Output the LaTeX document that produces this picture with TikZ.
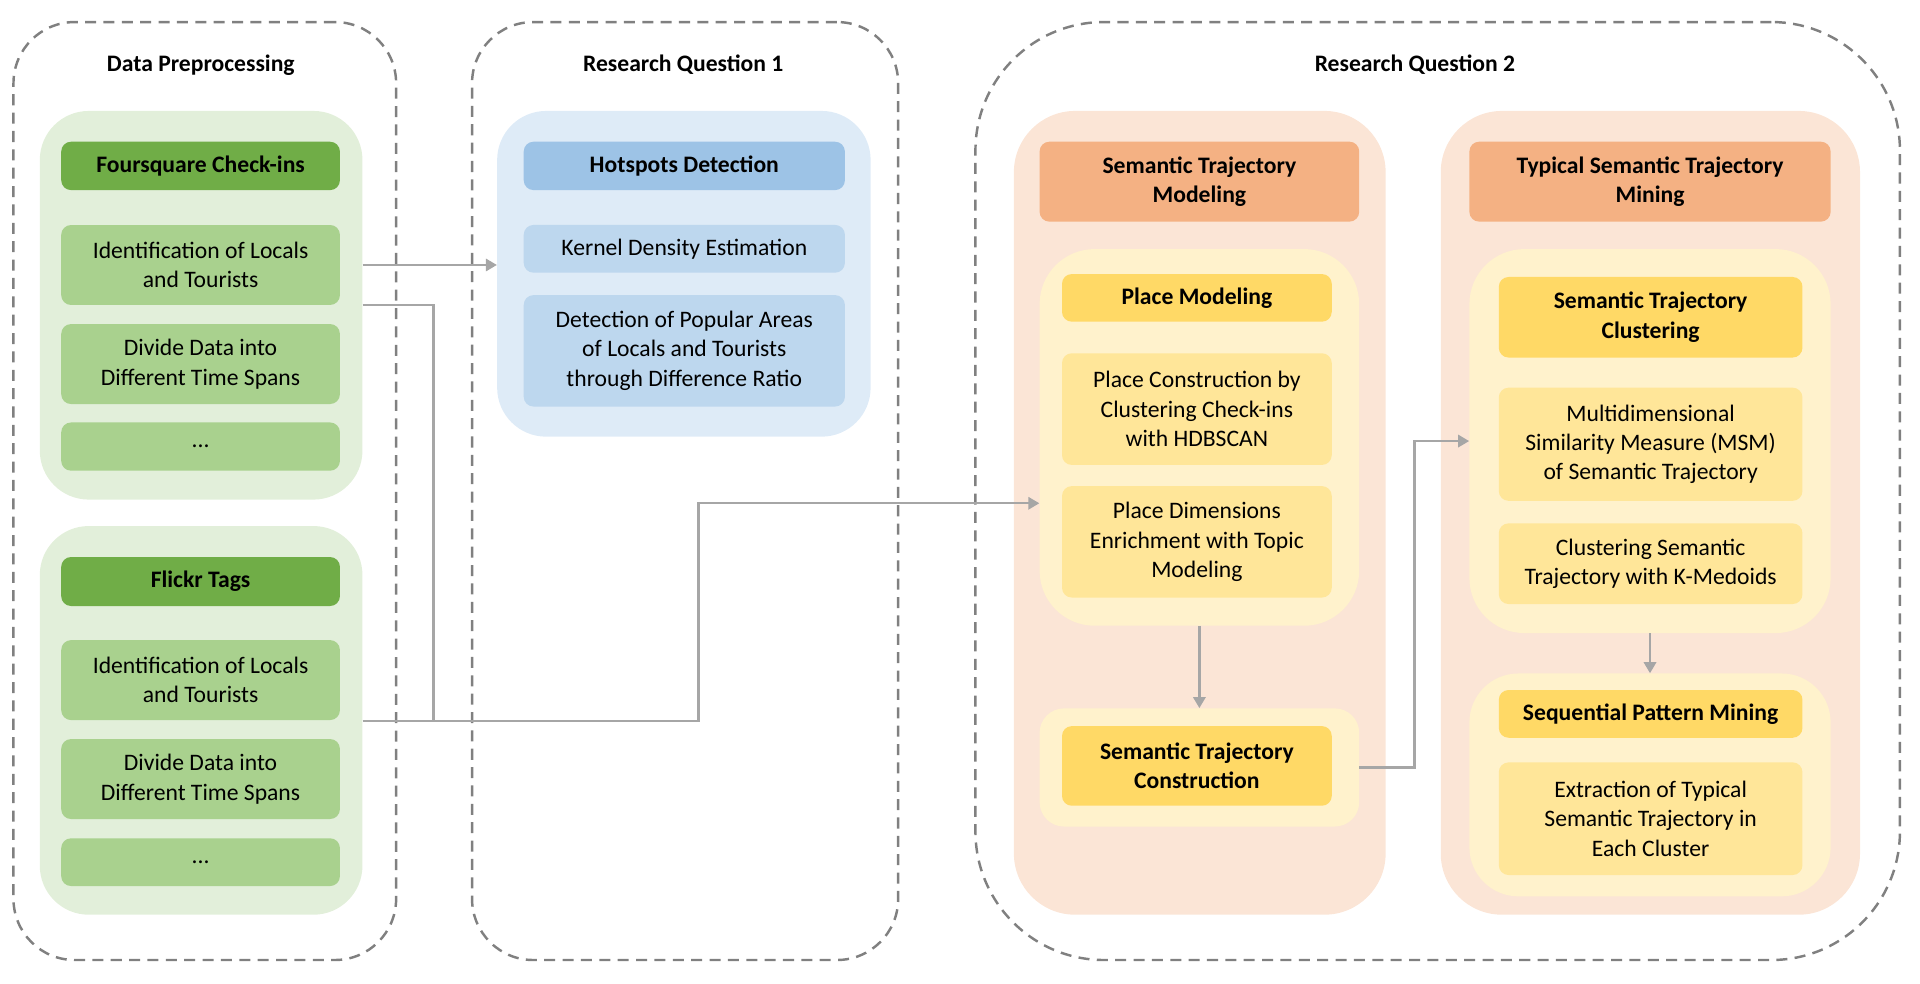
\documentclass[tikz,border=0pt]{standalone}
\usepackage{fontspec}
\setmainfont{Carlito}
\usepackage{xcolor}
\usepackage{tikz}
\usetikzlibrary{arrows.meta}

\definecolor{dashgray}{HTML}{808080}
\definecolor{conngray}{HTML}{A6A6A6}
\definecolor{greenGrp}{HTML}{E2EFDA}
\definecolor{greenHead}{HTML}{70AD47}
\definecolor{greenItem}{HTML}{A9D18E}
\definecolor{blueGrp}{HTML}{DEEBF7}
\definecolor{blueHead}{HTML}{9DC3E6}
\definecolor{blueItem}{HTML}{BDD7EE}
\definecolor{peachGrp}{HTML}{FBE5D6}
\definecolor{peachHead}{HTML}{F4B183}
\definecolor{yellowGrp}{HTML}{FFF2CC}
\definecolor{yellowHead}{HTML}{FFD966}
\definecolor{yellowItem}{HTML}{FFE699}

\tikzset{
  phase/.style={draw=dashgray, line width=2pt, dash pattern=on 9pt off 6pt, rounded corners=50pt, inner sep=0pt},
  grp/.style={rounded corners=40pt, inner sep=0pt},
  head/.style={rounded corners=8pt, inner sep=0pt, align=center, font=\fontsize{19.3}{24}\selectfont\bfseries},
  item/.style={rounded corners=8pt, inner sep=0pt, align=center, font=\fontsize{19.3}{24}\selectfont},
  title/.style={font=\fontsize{19.3}{24}\selectfont\bfseries},
  conn/.style={draw=conngray, line width=2pt, >={Triangle[length=9pt,width=10pt]}},
}

\begin{document}
\begin{tikzpicture}[x=1pt,y=-1pt]
  \useasboundingbox (0,0) rectangle (1568,803);

  %% dashed phases
  \node[phase, minimum width=312.5pt, minimum height=766pt] (dpPhase) at (167.25,401) {};
  \node[phase, minimum width=348pt, minimum height=766pt] (rqaPhase) at (559.5,401) {};
  \node[phase, rounded corners=105pt, minimum width=755pt, minimum height=766pt] (rqbPhase) at (1174.1,401) {};
  \node[title] (dpTitle) at (164,53) {Data Preprocessing};
  \node[title] (rqaTitle) at (558,53) {Research Question 1};
  \node[title] (rqbTitle) at (1155.5,53) {Research Question 2};

  %% data preprocessing
  \node[grp, fill=greenGrp, minimum width=263.5pt, minimum height=317.4pt] (fsGrp) at (164.25,249.3) {};
  \node[head, fill=greenHead, minimum width=227.6pt, minimum height=39.5pt] (fsHead) at (163.8,135.5) {Foursquare Check-ins};
  \node[item, fill=greenItem, minimum width=227.6pt, minimum height=65.3pt] (fsIdent) at (163.8,216.4) {Identification of Locals\\and Tourists};
  \node[item, fill=greenItem, minimum width=227.6pt, minimum height=65.3pt] (fsDivide) at (163.8,297.3) {Divide Data into\\Different Time Spans};
  \node[item, fill=greenItem, minimum width=227.6pt, minimum height=39.4pt] (fsDots) at (163.8,364.7) {...};

  \node[grp, fill=greenGrp, minimum width=263.5pt, minimum height=317.4pt] (flGrp) at (164.25,588.3) {};
  \node[head, fill=greenHead, minimum width=227.6pt, minimum height=40pt] (flHead) at (163.8,474.9) {Flickr Tags};
  \node[item, fill=greenItem, minimum width=227.6pt, minimum height=65.3pt] (flIdent) at (163.8,555.4) {Identification of Locals\\and Tourists};
  \node[item, fill=greenItem, minimum width=227.6pt, minimum height=65.3pt] (flDivide) at (163.8,636.2) {Divide Data into\\Different Time Spans};
  \node[item, fill=greenItem, minimum width=227.6pt, minimum height=39pt] (flDots) at (163.8,704.1) {...};

  %% research question 1
  \node[grp, fill=blueGrp, minimum width=305pt, minimum height=266pt] (hsGrp) at (558.5,223.6) {};
  \node[head, fill=blueHead, minimum width=262.3pt, minimum height=39.5pt] (hsHead) at (558.85,135.5) {Hotspots Detection};
  \node[item, fill=blueItem, minimum width=262.3pt, minimum height=39pt] (hsKde) at (558.85,203.2) {Kernel Density Estimation};
  \node[item, fill=blueItem, minimum width=262.3pt, minimum height=91pt] (hsRatio) at (558.85,286.5) {Detection of Popular Areas\\of Locals and Tourists\\through Difference Ratio};

  %% research question 2, modeling
  \node[grp, rounded corners=50pt, fill=peachGrp, minimum width=303.6pt, minimum height=656.4pt] (stmGrp) at (979.8,418.8) {};
  \node[head, fill=peachHead, minimum width=261pt, minimum height=65.3pt] (stmHead) at (979.5,148.35) {Semantic Trajectory\\Modeling};
  \node[grp, rounded corners=45pt, fill=yellowGrp, minimum width=261pt, minimum height=307.6pt] (pmInner) at (979.5,357.2) {};
  \node[head, fill=yellowHead, minimum width=220.3pt, minimum height=38.9pt] (pmHead) at (977.45,243.25) {Place Modeling};
  \node[item, fill=yellowItem, minimum width=220.3pt, minimum height=91.2pt] (pmCons) at (977.45,334.1) {Place Construction by\\Clustering Check-ins\\with HDBSCAN};
  \node[item, fill=yellowItem, minimum width=220.3pt, minimum height=91pt] (pmDims) at (977.45,442.5) {Place Dimensions\\Enrichment with Topic\\Modeling};
  \node[grp, rounded corners=20pt, fill=yellowGrp, minimum width=261pt, minimum height=96.5pt] (stcInner) at (979.5,626.75) {};
  \node[head, fill=yellowHead, minimum width=220.3pt, minimum height=65pt] (stcHead) at (977.45,625.5) {Semantic Trajectory\\Construction};

  %% research question 2, mining
  \node[grp, rounded corners=50pt, fill=peachGrp, minimum width=342.4pt, minimum height=656.4pt] (tstmGrp) at (1347.8,418.8) {};
  \node[head, fill=peachHead, minimum width=295pt, minimum height=65.3pt] (tstmHead) at (1347.5,148.35) {Typical Semantic Trajectory\\Mining};
  \node[grp, rounded corners=45pt, fill=yellowGrp, minimum width=295pt, minimum height=313.6pt] (clInner) at (1347.5,360.2) {};
  \node[head, fill=yellowHead, minimum width=248pt, minimum height=65.8pt] (clHead) at (1348,259.1) {Semantic Trajectory\\Clustering};
  \node[item, fill=yellowItem, minimum width=248pt, minimum height=92.4pt] (clMsm) at (1348,362.8) {Multidimensional\\Similarity Measure (MSM)\\of Semantic Trajectory};
  \node[item, fill=yellowItem, minimum width=248pt, minimum height=65.9pt] (clKmed) at (1348,460.35) {Clustering Semantic\\Trajectory with K-Medoids};
  \node[grp, fill=yellowGrp, minimum width=295pt, minimum height=182pt] (spmInner) at (1347.5,641) {};
  \node[head, fill=yellowHead, minimum width=248pt, minimum height=39pt] (spmHead) at (1348,583) {Sequential Pattern Mining};
  \node[item, fill=yellowItem, minimum width=248pt, minimum height=92pt] (spmExtr) at (1348,668.6) {Extraction of Typical\\Semantic Trajectory in\\Each Cluster};

  %% connectors
  \coordinate (joinPt) at (354,588.6);
  \coordinate (bendPt) at (570.6,411);
  \draw[conn,->] (fsGrp.east |- fsIdent.east) -- (hsGrp.west |- fsIdent.east);
  \draw[conn] (fsGrp.east |- fsIdent.south) -| (joinPt);
  \draw[conn,->] (flGrp.east |- joinPt) -- (bendPt |- joinPt) -- (bendPt) -- (pmInner.west |- bendPt);
  \draw[conn,->] (pmInner.south) -- (stcInner.north);
  \draw[conn,->] (stcInner.east) -- ++(45,0) |- (clInner.west);
  \draw[conn,->] (clInner.south) -- (spmInner.north);
\end{tikzpicture}
\end{document}
